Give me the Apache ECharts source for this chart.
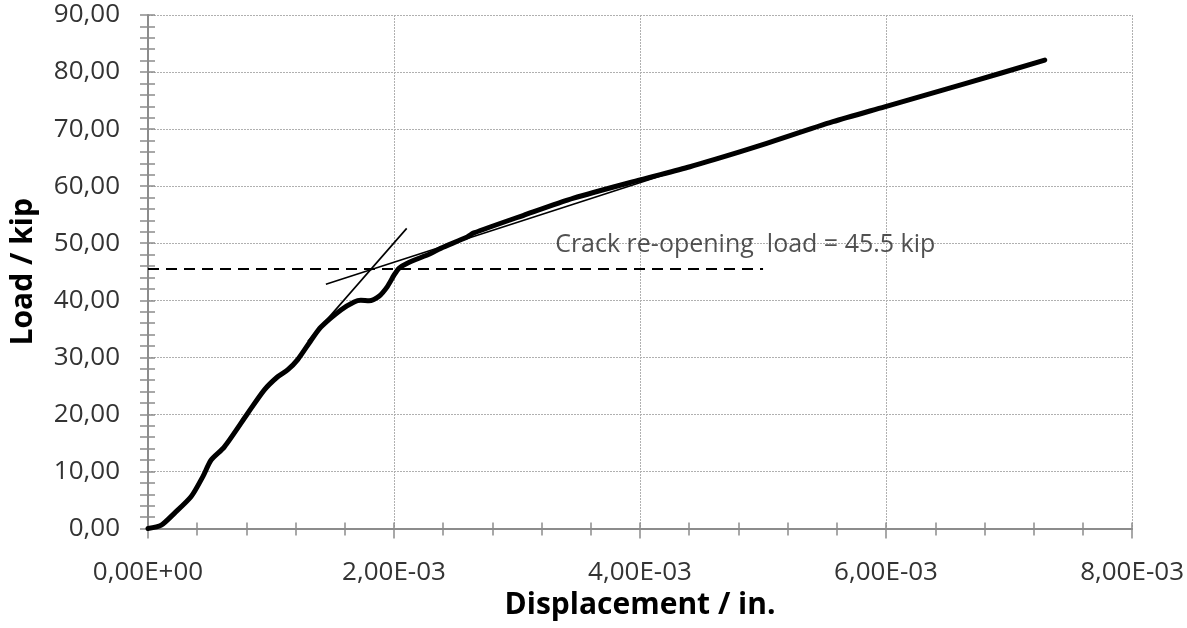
<!DOCTYPE html>
<html>
<head>
<meta charset="utf-8">
<script src="https://cdn.jsdelivr.net/npm/echarts@6/dist/echarts.min.js"></script>
<style>html,body{margin:0;padding:0;background:#fff;}#c{width:1187px;height:628px;}</style>
</head>
<body>
<div id="c"></div>
<script>
// Measured load-displacement curve
const displacement = [0, 0.108e-3, 0.216e-3, 0.351e-3, 0.446e-3, 0.513e-3, 0.621e-3, 0.811e-3, 0.946e-3, 1.054e-3, 1.135e-3, 1.217e-3, 1.326e-3, 1.406e-3, 1.568e-3, 1.676e-3, 1.730e-3, 1.797e-3, 1.878e-3, 1.946e-3, 2.000e-3, 2.040e-3, 2.108e-3, 2.298e-3, 2.379e-3, 2.595e-3, 2.649e-3, 3.054e-3, 3.460e-3, 4.000e-3, 4.406e-3, 4.810e-3, 5.030e-3, 5.568e-3, 5.988e-3, 6.650e-3, 7.290e-3];
const load = [0, 0.6, 2.7, 5.6, 9.1, 12.0, 14.3, 20.2, 24.3, 26.6, 27.8, 29.6, 33.0, 35.3, 38.3, 39.7, 40.0, 39.9, 40.7, 42.4, 44.4, 45.6, 46.5, 48.2, 49.1, 51.1, 51.8, 54.9, 57.9, 61.1, 63.4, 66.0, 67.5, 71.3, 73.9, 78.0, 82.1];
// Tangent construction lines
const steepX = [1.30e-3, 2.103e-3];
const steepY = [32.8, 52.6];
const shallowX = [1.446e-3, 4.40e-3];
const shallowY = [42.8, 63.4];
// Crack re-opening load level
const crackX = [0, 5.0e-3];
const crackY = [45.5, 45.5];
const annotationText = 'Crack re-opening  load = 45.5 kip';
const annotationPos = [3.31e-3, 49.7];

const pairs = (xs, ys) => xs.map((x, i) => [x, ys[i]]);
const fmtY = v => v.toFixed(2).replace('.', ',');
const fmtX = v => {
  if (Math.abs(v) < 1e-12) return '0,00E+00';
  const s = v.toExponential(2);
  const [m, e] = s.split('e');
  const ei = parseInt(e, 10);
  const es = (ei < 0 ? '-' : '+') + String(Math.abs(ei)).padStart(2, '0');
  return m.replace('.', ',') + 'E' + es;
};

const axisColor = '#8c8c8c';
const labelColor = '#333333';
const FONT = 'Open Sans';

const chart = echarts.init(document.getElementById('c'));
chart.setOption({
  animation: false,
  backgroundColor: '#ffffff',
  grid: { left: 146.7, right: 54, top: 15, bottom: 99.5, containLabel: false },
  xAxis: [
    {
      type: 'value', min: 0, max: 8e-3, interval: 2e-3,
      name: 'Displacement / in.', nameLocation: 'middle', nameGap: 53,
      nameTextStyle: { fontFamily: FONT, fontWeight: 'bold', fontSize: 30, color: '#000' },
      axisLine: { show: true, lineStyle: { color: axisColor, width: 2 } },
      axisTick: { show: true, inside: false, length: 10, lineStyle: { color: axisColor, width: 1.5 } },
      minorTick: { show: true, splitNumber: 5, length: 7, lineStyle: { color: axisColor, width: 1.5 } },
      axisLabel: { formatter: fmtX, fontFamily: FONT, fontSize: 26, color: labelColor, margin: 31 },
      splitLine: { show: true, lineStyle: { color: '#b0b0b0', type: [2, 1], width: 1 } },
      minorSplitLine: { show: false }
    },
    {
      type: 'value', min: 0, max: 8e-3, interval: 2e-3, position: 'bottom', offset: 0,
      axisLine: { show: false },
      axisTick: { show: true, inside: true, length: 6, lineStyle: { color: axisColor, width: 1.5 } },
      minorTick: { show: true, splitNumber: 5, length: 6, lineStyle: { color: axisColor, width: 1.5 } },
      axisLabel: { show: false },
      splitLine: { show: false }
    }
  ],
  yAxis: [
    {
      type: 'value', min: 0, max: 90, interval: 10,
      name: 'Load / kip', nameLocation: 'middle', nameGap: 110,
      nameTextStyle: { fontFamily: FONT, fontWeight: 'bold', fontSize: 30, color: '#000' },
      axisLine: { show: true, lineStyle: { color: axisColor, width: 2 } },
      axisTick: { show: true, inside: false, length: 8, lineStyle: { color: axisColor, width: 1.5 } },
      minorTick: { show: true, splitNumber: 5, length: 8, lineStyle: { color: axisColor, width: 1.5 } },
      axisLabel: { formatter: fmtY, fontFamily: FONT, fontSize: 26, color: labelColor, margin: 28 },
      splitLine: { show: true, lineStyle: { color: '#b0b0b0', type: [2, 1], width: 1 } }
    },
    {
      type: 'value', min: 0, max: 90, interval: 10, position: 'left', offset: 0,
      axisLine: { show: false },
      axisTick: { show: true, inside: true, length: 7, lineStyle: { color: axisColor, width: 1.5 } },
      minorTick: { show: true, splitNumber: 5, length: 7, lineStyle: { color: axisColor, width: 1.5 } },
      axisLabel: { show: false },
      splitLine: { show: false }
    }
  ],
  series: [
    {
      type: 'line', data: pairs(crackX, crackY), showSymbol: false, symbol: 'none',
      lineStyle: { color: '#000', width: 2, type: [11, 7] }, z: 3
    },
    {
      type: 'line', data: pairs(steepX, steepY), showSymbol: false, symbol: 'none',
      lineStyle: { color: '#000', width: 1.6 }, z: 4
    },
    {
      type: 'line', data: pairs(shallowX, shallowY), showSymbol: false, symbol: 'none',
      lineStyle: { color: '#000', width: 1.6 }, z: 4
    },
    {
      type: 'line', data: pairs(displacement, load), showSymbol: false, symbol: 'none',
      smooth: 0.25, lineStyle: { color: '#000', width: 5, cap: 'round', join: 'round' }, z: 5
    },
    {
      type: 'scatter', data: [annotationPos], symbolSize: 0,
      label: { show: true, position: 'right', distance: 0, formatter: annotationText,
        fontFamily: FONT, fontSize: 25, color: '#262626' }, z: 6
    }
  ]
});
</script>
</body>
</html>
